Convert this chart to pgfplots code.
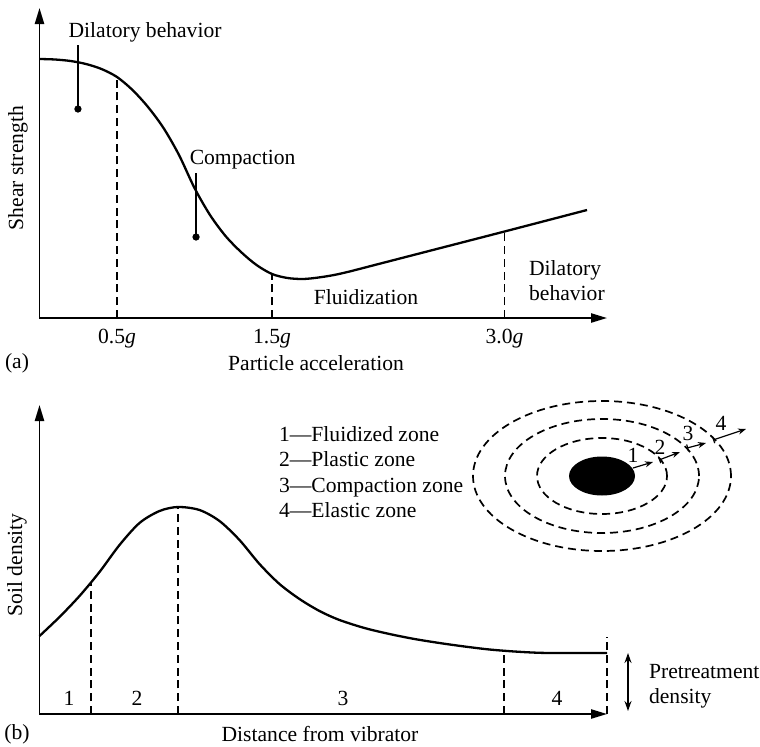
\documentclass[border=0pt]{standalone}
\usepackage{fontspec}
\setmainfont{Liberation Serif}
\usepackage{pgfplots}
\pgfplotsset{compat=1.18}
\usetikzlibrary{arrows.meta}

\begin{document}
\begin{tikzpicture}[font=\fontsize{10.8}{12.5}\selectfont]
\useasboundingbox (0,0) rectangle (380pt,373pt);
\pgfplotsset{
  myaxis/.style={
    scale only axis, clip=false,
    axis lines=left,
    axis line style={line width=0.9pt, -{Triangle[length=8pt,width=4.6pt]}},
    ytick=\empty,
    major tick length=0pt,
    tick label style={font=\fontsize{10.8}{12.5}\selectfont},
  },
  curve/.style={line width=1.15pt, black, smooth, no marks},
  dline/.style={line width=0.95pt, black, dash pattern=on 4pt off 2.4pt, no marks},
  lead/.style={line width=0.75pt, black, no marks},
}

% ---------------- Panel (a)
\begin{axis}[myaxis, at={(19.75pt,214pt)}, anchor=south west,
  width=283.75pt, height=155pt,
  xmin=0, xmax=3.661, ymin=0, ymax=3.10,
  xtick={0.5,1.5,3.0}, xticklabels={0.5\textit{g},1.5\textit{g},3.0\textit{g}},
  xticklabel style={anchor=base, yshift=-12.5pt},
]
\addplot[curve] coordinates {
 (0,2.59) (0.1,2.585) (0.2,2.57) (0.3,2.54) (0.4,2.49) (0.5,2.41) (0.6,2.28)
 (0.7,2.11) (0.8,1.90) (0.9,1.63) (1.0,1.30) (1.1,1.03) (1.2,0.82) (1.3,0.66)
 (1.4,0.53) (1.5,0.44) (1.6,0.40) (1.7,0.39) (1.8,0.405) (1.9,0.43) (2.0,0.465)
 (2.2,0.545) (2.6,0.705) (3.0,0.865) (3.532,1.08)};
\addplot[dline] coordinates {(0.5,0) (0.5,2.41)};
\addplot[dline] coordinates {(1.5,0) (1.5,0.44)};
\addplot[dline] coordinates {(3.0,0) (3.0,0.865)};
\addplot[lead] coordinates {(0.248,2.73) (0.248,2.09)};
\addplot[lead] coordinates {(1.01,1.45) (1.01,0.81)};
\addplot[only marks, mark=*, mark size=1.6pt, black] coordinates {(0.248,2.09) (1.01,0.81)};
\node at (axis cs:0.681,2.86) {Dilatory behavior};
\node at (axis cs:1.31,1.58) {Compaction};
\node at (axis cs:2.106,0.21) {Fluidization};
\node[anchor=west, align=left] at (axis cs:3.113,0.375) {Dilatory\\behavior};
\node at (axis cs:1.784,-0.45) {Particle acceleration};
\node at (axis cs:-0.145,-0.45) {(a)};
\node[rotate=90] at (axis cs:-0.139,1.50) {Shear strength};
\end{axis}

% ---------------- Panel (b)
\begin{axis}[myaxis, at={(19.75pt,16pt)}, anchor=south west,
  width=283.75pt, height=154.5pt,
  xmin=0, xmax=5.675, ymin=0, ymax=3.09,
  xtick=\empty,
]
\addplot[curve] coordinates {
 (0,0.78) (0.2,0.97) (0.4,1.18) (0.6,1.42) (0.8,1.69) (1.0,1.91) (1.2,2.03)
 (1.385,2.07) (1.6,2.04) (1.8,1.93) (2.0,1.74) (2.2,1.50) (2.4,1.30) (2.6,1.15)
 (2.8,1.03) (3.0,0.94) (3.25,0.86) (3.5,0.80) (3.75,0.75) (4.0,0.71) (4.25,0.675)
 (4.5,0.645) (4.75,0.625) (5.0,0.612) (5.25,0.61) (5.675,0.61)};
\addplot[dline] coordinates {(0.515,0) (0.515,1.32)};
\addplot[dline] coordinates {(1.385,0) (1.385,2.07)};
\addplot[dline] coordinates {(4.645,0) (4.645,0.63)};
\addplot[dline] coordinates {(5.675,0) (5.675,0.77)};
\node at (axis cs:0.295,0.16) {1};
\node at (axis cs:0.975,0.16) {2};
\node at (axis cs:3.035,0.16) {3};
\node at (axis cs:5.175,0.16) {4};
\node[anchor=west, align=left, font=\fontsize{10.8}{12.75}\selectfont] at (axis cs:2.325,2.42)
  {1—Fluidized zone\\2—Plastic zone\\3—Compaction zone\\4—Elastic zone};
% vibrator and zones
\fill[black] (axis cs:5.625,2.38) ellipse [x radius=16.5pt, y radius=9.75pt];
\draw[line width=0.85pt, dash pattern=on 4pt off 2.5pt] (axis cs:5.625,2.38) ellipse [x radius=32.5pt, y radius=19pt];
\draw[line width=0.85pt, dash pattern=on 4pt off 2.5pt] (axis cs:5.625,2.38) ellipse [x radius=48.5pt, y radius=28.5pt];
\draw[line width=0.85pt, dash pattern=on 4pt off 2.5pt] (axis cs:5.625,2.38) ellipse [x radius=64.5pt, y radius=37.5pt];
\draw[line width=0.6pt, -{Stealth[length=4pt,width=3pt]}] (axis cs:5.935,2.46) -- (axis cs:6.135,2.52);
\draw[line width=0.6pt, {Bar[width=3.5pt]}-{Stealth[length=4pt,width=3pt]}] (axis cs:6.195,2.54) -- (axis cs:6.405,2.62);
\draw[line width=0.6pt, {Bar[width=3.5pt]}-{Stealth[length=4pt,width=3pt]}] (axis cs:6.475,2.66) -- (axis cs:6.665,2.71);
\draw[line width=0.6pt, {Bar[width=3.5pt]}-{Stealth[length=4pt,width=3pt]}] (axis cs:6.735,2.74) -- (axis cs:7.065,2.85);
\node at (axis cs:5.935,2.59) {1};
\node at (axis cs:6.205,2.67) {2};
\node at (axis cs:6.485,2.81) {3};
\node at (axis cs:6.815,2.91) {4};
% pretreatment density
\draw[line width=0.7pt, {Stealth[length=5pt,width=3.5pt]}-{Stealth[length=5pt,width=3.5pt]}] (axis cs:5.885,0.61) -- (axis cs:5.885,0.03);
\node[anchor=west, align=left] at (axis cs:6.025,0.275) {Pretreatment\\density};
\node at (axis cs:2.805,-0.20) {Distance from vibrator};
\node at (axis cs:-0.225,-0.20) {(b)};
\node[rotate=90] at (axis cs:-0.225,1.49) {Soil density};
\end{axis}
\end{tikzpicture}
\end{document}
